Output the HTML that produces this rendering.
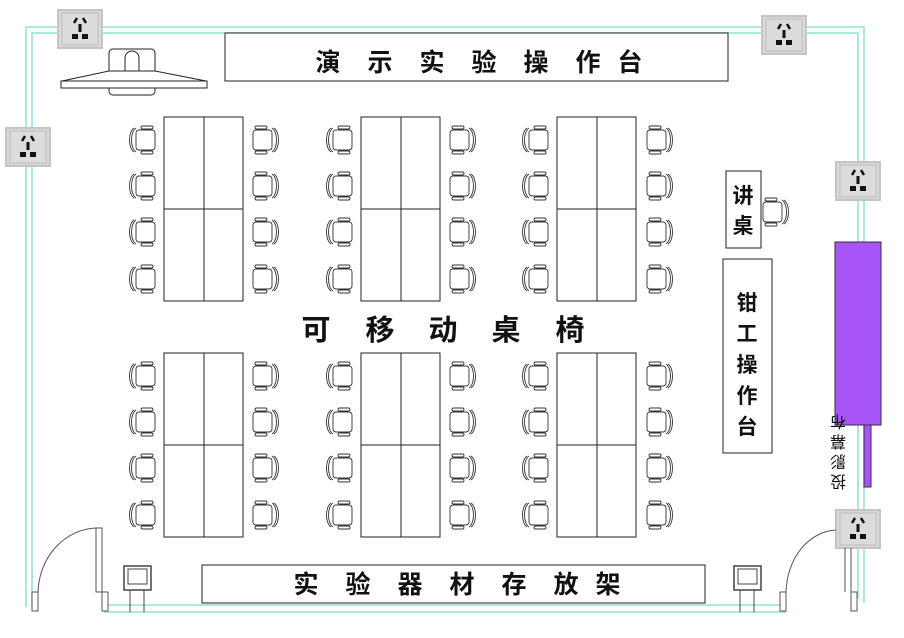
<!DOCTYPE html>
<html><head><meta charset="utf-8"><style>
html,body{margin:0;padding:0;background:#fff;}
svg{display:block;}
text{font-family:"Liberation Sans","Noto Sans CJK SC",sans-serif;font-weight:bold;fill:#111;}
</style></head><body>
<svg width="904" height="638" viewBox="0 0 904 638" xmlns="http://www.w3.org/2000/svg">
<defs>
<g id="chairL" fill="#fff" stroke="#333" stroke-width="0.9">
  <path d="M-6,-12 C-12,-8 -12,8 -6,12" fill="none"/>
  <path d="M-8,-12 C-14,-8 -14,8 -8,12" fill="none"/>
  <rect x="-6" y="-10" width="19" height="20" rx="3"/>
  <rect x="-1" y="-14" width="12" height="3" rx="1.5"/>
  <rect x="-1" y="11" width="12" height="3" rx="1.5"/>
</g>
<g id="chairR"><use href="#chairL" transform="scale(-1,1)"/></g>
<g id="outlet">
  <rect x="0" y="0" width="44" height="38" fill="#d8d8d8" stroke="#c4c4c4" stroke-width="2"/>
  <rect x="4" y="3" width="36" height="32" fill="#dcdcdc" stroke="#bbb" stroke-width="1"/>
  <path d="M16,13 L19,8 M28,13 L25,8" stroke="#111" stroke-width="2.5"/>
  <rect x="20.5" y="14" width="3" height="8" fill="#111"/>
  <path d="M14,24 h6 v5 h-6 z M24,24 h6 v5 h-6z" fill="#111"/>
</g>
<g id="tbl" fill="none" stroke="#222" stroke-width="1">
  <rect x="0" y="0" width="79" height="184"/>
  <line x1="40" y1="0" x2="40" y2="184"/>
  <line x1="0" y1="92" x2="79" y2="92"/>
</g>
<g id="col">
  <use href="#chairL" x="0" y="140"/><use href="#chairL" x="0" y="186"/><use href="#chairL" x="0" y="232"/><use href="#chairL" x="0" y="279"/>
  <use href="#chairL" x="0" y="376"/><use href="#chairL" x="0" y="422"/><use href="#chairL" x="0" y="468"/><use href="#chairL" x="0" y="515"/>
</g>
<g id="colR">
  <use href="#chairR" x="0" y="140"/><use href="#chairR" x="0" y="186"/><use href="#chairR" x="0" y="232"/><use href="#chairR" x="0" y="279"/>
  <use href="#chairR" x="0" y="376"/><use href="#chairR" x="0" y="422"/><use href="#chairR" x="0" y="468"/><use href="#chairR" x="0" y="515"/>
</g>
</defs>
<!-- walls -->
<g fill="none" stroke="#8fe0d4" stroke-width="1.5">
  <path d="M26,607 V27 H864 V603"/>
  <path d="M32,607 V33 H858 V598"/>
  <path d="M104,605 H786 M104,612 H786"/>
</g>
<!-- outlets -->
<use href="#outlet" x="58" y="10"/>
<use href="#outlet" x="762" y="16"/>
<use href="#outlet" x="6" y="128"/>
<use href="#outlet" x="836" y="162"/>
<use href="#outlet" x="836" y="510"/>
<!-- top bench -->
<rect x="225" y="33" width="503" height="48" fill="#fff" stroke="#222"/>
<text y="71" font-size="25" text-anchor="middle" x="328 380 432 484 536 588 630">演示实验操作台</text>
<!-- projector -->
<g fill="#fff" stroke="#222" stroke-width="1">
  <rect x="109" y="49" width="46" height="46" rx="4"/>
  <path d="M125,72 V58 a7,7 0 0 1 14,0 V72" />
  <path d="M62,81 L109,71 H155 L206,81 Z"/>
  <rect x="61" y="81" width="146" height="7"/>
</g>
<!-- tables -->
<use href="#tbl" x="164" y="117"/><use href="#tbl" x="361" y="117"/><use href="#tbl" x="557" y="117"/>
<use href="#tbl" x="164" y="353"/><use href="#tbl" x="361" y="353"/><use href="#tbl" x="557" y="353"/>
<!-- chairs -->
<use href="#col" x="142"/><use href="#colR" x="266"/>
<use href="#col" x="339"/><use href="#colR" x="463"/>
<use href="#col" x="535"/><use href="#colR" x="660"/>
<text y="340" font-size="29" text-anchor="middle" x="316 380 443 506 570">可移动桌椅</text>
<!-- lectern -->
<rect x="726" y="171" width="35" height="77" fill="#fff" stroke="#222"/>
<text x="743" y="203" font-size="21" text-anchor="middle">讲</text>
<text x="743" y="233" font-size="21" text-anchor="middle">桌</text>
<use href="#chairR" x="776" y="212"/>
<!-- fitter bench -->
<rect x="723" y="259" width="49" height="194" fill="#fff" stroke="#222"/>
<g font-size="21" text-anchor="middle">
<text x="747" y="310">钳</text><text x="747" y="341">工</text><text x="747" y="372">操</text><text x="747" y="403">作</text><text x="747" y="434">台</text>
</g>
<!-- screen -->
<rect x="835" y="242" width="46" height="183" fill="#a855f7" stroke="#333"/>
<rect x="864" y="425" width="7" height="62" fill="#a855f7" stroke="#333"/>
<g font-size="16" text-anchor="middle" transform="rotate(180 838 452)">
<text x="838" y="428" style="font-weight:normal">投</text><text x="838" y="448" style="font-weight:normal">影</text><text x="838" y="468" style="font-weight:normal">幕</text><text x="838" y="488" style="font-weight:normal">布</text>
</g>
<!-- bottom rack -->
<rect x="202" y="565" width="503" height="38" fill="#fff" stroke="#222"/>
<text y="593" font-size="25" text-anchor="middle" x="306 358 410 462 514 566 608">实验器材存放架</text>
<!-- small devices -->
<g fill="#fff" stroke="#444">
<rect x="124" y="566" width="27" height="24" stroke-width="1.5"/><rect x="128" y="569" width="19" height="15"/>
<path d="M130,590 V612 M144,590 V612" fill="none"/>
<rect x="734" y="566" width="27" height="24" stroke-width="1.5"/><rect x="738" y="569" width="19" height="15"/>
<path d="M740,590 V612 M754,590 V612" fill="none"/>
</g>
<!-- doors -->
<g fill="#fff" stroke="#555" stroke-width="1">
<path d="M38,593 A60,66 0 0 1 96,528" fill="none"/>
<rect x="96" y="528" width="6" height="64"/>
<rect x="32" y="592" width="6" height="19"/>
<rect x="102" y="592" width="6" height="19"/>
<path d="M786,592 A52,64 0 0 1 836,530" fill="none"/>
<rect x="780" y="592" width="6" height="19"/>
<path d="M845,548 V592 M851,548 V592" fill="none"/>
<rect x="851" y="592" width="6" height="19"/>
</g>
</svg>
</body></html>
